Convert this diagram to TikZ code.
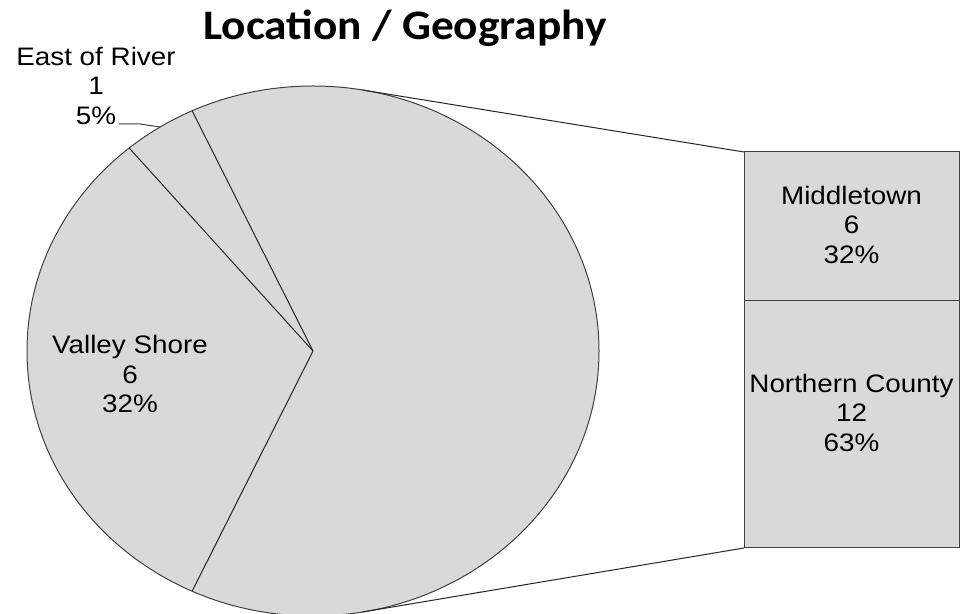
\documentclass[tikz,border=0pt]{standalone}
\usepackage{fontspec}
\setmainfont{Liberation Sans}[FakeStretch=1.1]
\newfontfamily\titlefont{Carlito}[FakeStretch=1.08]
\definecolor{pieGray}{RGB}{217,217,217}
\definecolor{lineGray}{RGB}{64,64,64}
\begin{document}
\begin{tikzpicture}[x=1pt,y=1pt,
  piefill/.style={fill=pieGray, draw=lineGray, line width=1pt},
  sliceline/.style={draw=black!85, line width=1pt},
  barbox/.style={rectangle, fill=pieGray, draw=lineGray, line width=1pt, inner sep=0pt, outer sep=0pt, anchor=north west, minimum width=215pt},
  lab/.style={align=center, inner sep=0pt, anchor=north, font=\fontsize{25.3}{29.5}\selectfont, text=black},
  titlestyle/.style={inner sep=0pt, anchor=base, font=\titlefont\bfseries\fontsize{42}{50}\selectfont}]
\useasboundingbox (0,0) rectangle (966,613);
\clip (0,0) rectangle (966,613);
\coordinate (c) at (313,262);
\draw[piefill] (c) ellipse [x radius=286, y radius=265];
\coordinate (b1) at ([shift={(c)}]115:286 and 265);
\coordinate (b2) at ([shift={(c)}]130:286 and 265);
\coordinate (b3) at ([shift={(c)}]245:286 and 265);
\coordinate (eor) at ([shift={(c)}]122.3:286 and 265);
\coordinate (tTop) at ([shift={(c)}]80:286 and 265);
\coordinate (tBot) at ([shift={(c)}]-80:286 and 265);
\draw[sliceline] (c) -- (b1);
\draw[sliceline] (c) -- (b2);
\draw[sliceline] (c) -- (b3);
% secondary bar
\node[barbox, minimum height=149pt] (mid) at (744,461) {};
\node[barbox, minimum height=247pt] (nc) at (744,312) {};
\draw[sliceline] (tTop) -- (mid.north west);
\draw[sliceline] (tBot) -- (nc.south west);
% labels
\node[titlestyle] (title) at (405,573) {Location / Geography};
\node[lab] (leor) at (96,566.5) {East of River\\1\\5\%};
\coordinate (leorend) at (119,489);
\draw[draw=lineGray, line width=1pt] (leorend) -- (140,489) -- (eor);
\node[lab] (lvs) at (130,278) {Valley Shore\\6\\32\%};
\node[lab] (lmid) at (851.5,427.5) {Middletown\\6\\32\%};
\node[lab] (lnc) at (851.5,239.5) {Northern County\\12\\63\%};
\end{tikzpicture}
\end{document}
